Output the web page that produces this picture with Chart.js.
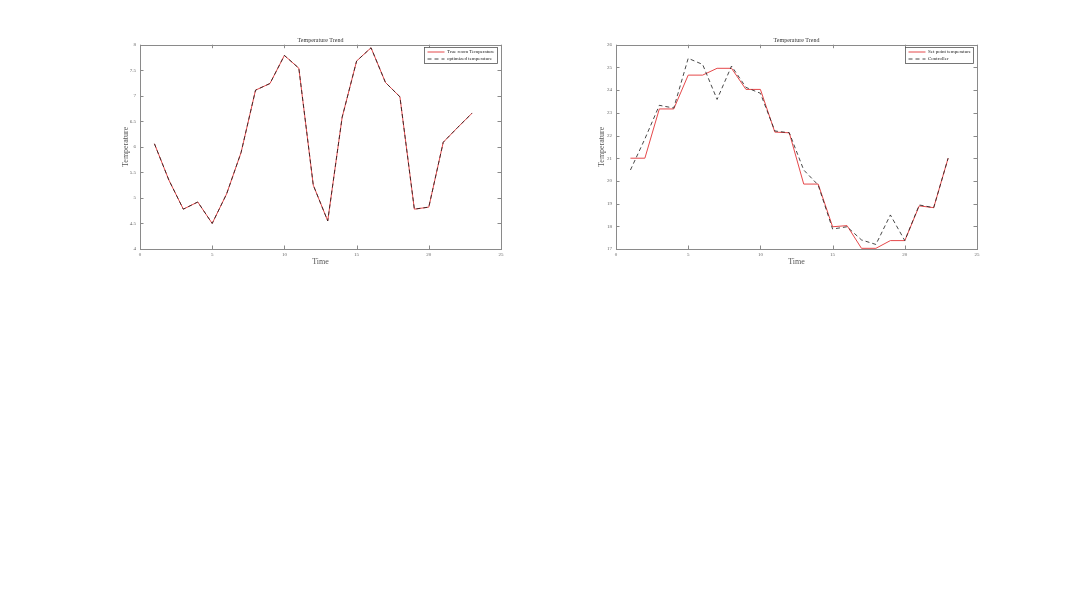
<!DOCTYPE html>
<html>
<head>
<meta charset="utf-8">
<script src="https://cdn.jsdelivr.net/npm/chart.js@4.4.1/dist/chart.umd.min.js"></script>
<style>
  body { margin: 0; background: #fff; width: 1080px; height: 599px; overflow: hidden; }
  .wrap { position: absolute; top: 0; width: 480px; height: 300px; }
  #w1 { left: 60px; }
  #w2 { left: 536px; }
</style>
</head>
<body>
<div class="wrap" id="w1"><canvas id="c1"></canvas></div>
<div class="wrap" id="w2"><canvas id="c2"></canvas></div>
<script>
const timeSteps = [1, 2, 3, 4, 5, 6, 7, 8, 9, 10, 11, 12, 13, 14, 15, 16, 17, 18, 19, 20, 21, 22, 23];

// left chart
const trueRoomTemp = [6.06, 5.35, 4.78, 4.92, 4.50, 5.08, 5.89, 7.11, 7.24, 7.79, 7.54, 5.25, 4.55, 6.58, 7.68, 7.94, 7.26, 6.98, 4.78, 4.82, 6.09, 6.38, 6.66];
const optimizedTemp = [6.06, 5.35, 4.78, 4.92, 4.50, 5.08, 5.89, 7.11, 7.24, 7.79, 7.54, 5.25, 4.55, 6.58, 7.68, 7.94, 7.26, 6.98, 4.78, 4.82, 6.09, 6.38, 6.66];

// right chart
const setPointTemp = [21.0, 21.0, 23.17, 23.17, 24.66, 24.66, 24.96, 24.96, 24.03, 24.03, 22.15, 22.12, 19.86, 19.86, 17.98, 18.03, 17.03, 17.03, 17.37, 17.37, 18.9, 18.82, 21.0];
const controllerTemp = [20.48, 21.85, 23.33, 23.21, 25.4, 25.13, 23.59, 25.06, 24.12, 23.86, 22.2, 22.12, 20.48, 19.82, 17.88, 17.98, 17.4, 17.2, 18.5, 17.37, 18.94, 18.82, 21.0];

const xTicks = [0, 5, 10, 15, 20, 25];
const yTicksLeft = [4, 4.5, 5, 5.5, 6, 6.5, 7, 7.5, 8];
const yTicksRight = [17, 18, 19, 20, 21, 22, 23, 24, 25, 26];

const serif = "'Liberation Serif', 'DejaVu Serif', serif";
const RED = '#e5484a';
const BLACK = '#1a1a1a';
const AXIS = '#8a8a8a';

// box, inward ticks and legend inside the axes
const axesBox = {
  id: 'axesBox',
  afterDraw(chart, args, opts) {
    const ctx = chart.ctx;
    const a = chart.chartArea;
    const xs = chart.scales.x, ys = chart.scales.y;
    ctx.save();
    ctx.strokeStyle = AXIS;
    ctx.lineWidth = 1;
    ctx.strokeRect(Math.round(a.left) + 0.5, Math.round(a.top) + 0.5,
      Math.round(a.right - a.left), Math.round(a.bottom - a.top));
    ctx.beginPath();
    opts.xTicks.forEach(v => {
      const px = Math.round(xs.getPixelForValue(v)) + 0.5;
      ctx.moveTo(px, a.bottom); ctx.lineTo(px, a.bottom - 3.5);
      ctx.moveTo(px, a.top); ctx.lineTo(px, a.top + 3.5);
    });
    opts.yTicks.forEach(v => {
      const py = Math.round(ys.getPixelForValue(v)) + 0.5;
      ctx.moveTo(a.left, py); ctx.lineTo(a.left + 3.5, py);
      ctx.moveTo(a.right, py); ctx.lineTo(a.right - 3.5, py);
    });
    ctx.stroke();

    // legend
    const w = opts.legendWidth, h = 16;
    const lx = Math.round(a.right - 4 - w) + 0.5, ly = Math.round(a.top + 2) + 0.5;
    ctx.fillStyle = '#fff';
    ctx.fillRect(lx, ly, w, h);
    ctx.strokeStyle = '#555';
    ctx.lineWidth = 0.8;
    ctx.strokeRect(lx, ly, w, h);
    ctx.font = '5px ' + serif;
    ctx.textBaseline = 'middle';
    ctx.fillStyle = '#222';
    chart.data.datasets.forEach((ds, i) => {
      const yy = ly + 4.5 + i * 7;
      ctx.beginPath();
      ctx.strokeStyle = ds.borderColor;
      ctx.lineWidth = ds.borderWidth;
      ctx.setLineDash(ds.borderDash || []);
      ctx.moveTo(lx + 3, yy); ctx.lineTo(lx + 20, yy);
      ctx.stroke();
      ctx.setLineDash([]);
      ctx.fillText(ds.label, lx + 22.5, yy);
    });
    ctx.restore();
  }
};

function makeChart(id, series1, series2, labels, yMin, yMax, yTicks, legendWidth) {
  return new Chart(document.getElementById(id), {
    type: 'line',
    data: {
      labels: timeSteps,
      datasets: [{
        label: labels[0],
        data: timeSteps.map((t, i) => ({ x: t, y: series1[i] })),
        borderColor: RED,
        borderWidth: 1,
        pointRadius: 0,
        tension: 0,
        order: 1
      }, {
        label: labels[1],
        data: timeSteps.map((t, i) => ({ x: t, y: series2[i] })),
        borderColor: BLACK,
        borderWidth: 0.8,
        borderDash: [4, 3],
        pointRadius: 0,
        tension: 0,
        order: 0
      }]
    },
    options: {
      responsive: true,
      maintainAspectRatio: false,
      animation: false,
      layout: { padding: { left: 58, right: 39, top: 0, bottom: 34 } },
      plugins: {
        legend: { display: false },
        tooltip: { enabled: false },
        title: {
          display: true,
          text: 'Temperature Trend',
          fullSize: false,
          color: '#333',
          font: { family: serif, size: 6, weight: 'normal', lineHeight: 1.2 },
          padding: { top: 36.5, bottom: 1 }
        },
        axesBox: { xTicks: xTicks, yTicks: yTicks, legendWidth: legendWidth }
      },
      scales: {
        x: {
          type: 'linear',
          min: 0, max: 25,
          afterBuildTicks: s => { s.ticks = xTicks.map(v => ({ value: v })); },
          afterFit: s => { s.height = 17; },
          grid: { display: false, drawTicks: false, tickLength: 0 },
          border: { display: false },
          ticks: { color: '#666', padding: 3, font: { family: serif, size: 5 }, callback: v => String(v) },
          title: {
            display: true, text: 'Time', color: '#555',
            font: { family: serif, size: 8, lineHeight: 1 },
            padding: { top: 0, bottom: 0 }
          }
        },
        y: {
          type: 'linear',
          min: yMin, max: yMax,
          afterBuildTicks: s => { s.ticks = yTicks.map(v => ({ value: v })); },
          afterFit: s => { s.width = 22; },
          grid: { display: false, drawTicks: false, tickLength: 0 },
          border: { display: false },
          ticks: { color: '#666', padding: 4, font: { family: serif, size: 5 }, callback: v => String(v) },
          title: {
            display: true, text: 'Temperature', color: '#555',
            font: { family: serif, size: 8, lineHeight: 1 },
            padding: { top: 4, bottom: 0 }
          }
        }
      }
    },
    plugins: [axesBox]
  });
}

makeChart('c1', trueRoomTemp, optimizedTemp, ['True room Temperature', 'optimized temperature'], 4, 8, yTicksLeft, 73);
makeChart('c2', setPointTemp, controllerTemp, ['Set point temperature', 'Controller'], 17, 26, yTicksRight, 68);
</script>
</body>
</html>
